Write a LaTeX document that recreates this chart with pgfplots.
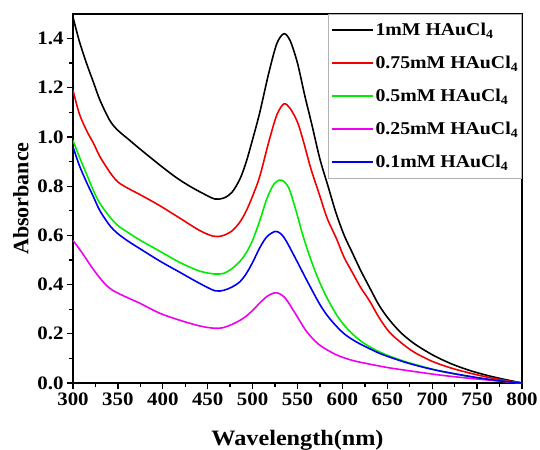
\documentclass[border=0pt]{standalone}
\usepackage{fontspec}
\setmainfont{Liberation Serif}[FakeStretch=1.1]
\newfontfamily\ylabfont{Liberation Serif}
\usepackage{pgfplots}
\pgfplotsset{compat=1.18}
\definecolor{cgreen}{RGB}{0,235,0}
\definecolor{cmag}{RGB}{240,0,240}
\definecolor{cblue}{RGB}{0,0,240}
\definecolor{cred}{RGB}{240,0,0}
\begin{document}
\begin{tikzpicture}
\useasboundingbox (-73bp,-67bp) rectangle (467bp,383bp);
\begin{axis}[
  at={(0,0)}, anchor=south west,
  scale only axis, width=449bp, height=369bp,
  xmin=300, xmax=800, ymin=0, ymax=1.5,
  xtick={300,350,...,800},
  ytick={0,0.2,...,1.4},
  minor x tick num=1, minor y tick num=1,
  tick pos=left, tick align=outside,
  major tick length=6bp, minor tick length=4bp,
  every tick/.style={line width=1.4pt, black},
  axis line style={line width=1.4pt},
  yticklabel style={/pgf/number format/.cd, fixed, fixed zerofill, precision=1},
  /pgf/number format/assume math mode=true,
  ticklabel style={font=\fontsize{19bp}{20bp}\selectfont\bfseries},
  xlabel={Wavelength(nm)}, ylabel={Absorbance},
  xlabel style={font=\fontsize{22bp}{24bp}\selectfont\bfseries, yshift=-18bp},
  ylabel style={font=\fontsize{22bp}{24bp}\ylabfont\bfseries, yshift=2bp},
  legend style={at={(1,1)}, anchor=north east, draw=gray!60, line width=0.8pt,
    font=\fontsize{18bp}{20bp}\selectfont\bfseries, row sep=15bp,
    inner xsep=2bp, inner ysep=7bp},
  legend cell align=left,
  legend image post style={line width=1.8pt},
  legend image code/.code={\draw[#1] (0cm,0cm) -- (1.45cm,0cm);},
  every axis plot/.append style={line width=1.6pt, smooth, no markers},
]
\addplot[black] coordinates {
(300,1.487)(307,1.39)(315,1.30)(323,1.22)(330,1.15)(341,1.067)(350,1.027)(362,0.99)(375,0.95)
(397,0.885)(415,0.835)(430,0.80)(445,0.77)(458,0.748)(468,0.752)(477,0.775)(486,0.83)(493,0.90)(500,0.99)
(508,1.10)(518,1.26)(527,1.38)(535,1.42)(542,1.39)(550,1.30)(558,1.17)(566,1.05)
(575,0.91)(584,0.80)(593,0.69)(602,0.60)(611,0.53)(620,0.46)(630,0.39)(641,0.315)(652,0.258)
(665,0.205)(680,0.16)(700,0.115)(720,0.08)(740,0.053)(760,0.032)(780,0.015)(800,0)};
\addlegendentry{1mM HAuCl$_{\mathbf{4}}$}
\addplot[cred] coordinates {
(300,1.19)(307,1.095)(315,1.027)(323,0.973)(330,0.92)(341,0.857)(350,0.817)(362,0.79)(375,0.765)
(397,0.72)(419,0.67)(441,0.62)(456,0.597)(466,0.598)(477,0.618)(486,0.655)(493,0.70)(500,0.76)
(508,0.84)(518,0.98)(527,1.09)(535,1.135)(542,1.115)(550,1.06)(556,0.99)(565,0.87)
(574,0.77)(583,0.67)(593,0.59)(602,0.51)(611,0.45)(620,0.39)(630,0.335)(641,0.265)(652,0.208)
(665,0.165)(680,0.125)(700,0.088)(720,0.062)(740,0.042)(760,0.025)(780,0.011)(800,0)};
\addlegendentry{0.75mM HAuCl$_{\mathbf{4}}$}
\addplot[cgreen] coordinates {
(300,0.986)(307,0.92)(315,0.85)(323,0.78)(330,0.73)(341,0.675)(350,0.64)(362,0.61)(375,0.58)
(397,0.535)(419,0.49)(441,0.455)(458,0.443)(468,0.446)(477,0.465)(486,0.495)(493,0.53)(500,0.58)
(508,0.66)(516,0.75)(524,0.81)(532,0.825)(540,0.795)(548,0.705)(556,0.60)(565,0.50)
(574,0.415)(583,0.345)(593,0.28)(602,0.235)(611,0.2)(620,0.172)(630,0.148)(641,0.127)(652,0.11)
(670,0.087)(689,0.067)(707,0.05)(726,0.036)(745,0.024)(763,0.014)(780,0.007)(800,0)};
\addlegendentry{0.5mM HAuCl$_{\mathbf{4}}$}
\addplot[cmag] coordinates {
(300,0.58)(310,0.53)(323,0.46)(335,0.405)(345,0.375)(360,0.348)(374,0.325)(397,0.283)
(419,0.255)(441,0.232)(456,0.223)(466,0.224)(477,0.238)(486,0.255)(493,0.272)(500,0.295)
(508,0.325)(516,0.352)(524,0.366)(530,0.363)(537,0.342)(548,0.28)(560,0.21)(574,0.156)
(593,0.115)(611,0.092)(630,0.077)(650,0.063)(670,0.052)(689,0.042)(707,0.033)(726,0.025)
(745,0.018)(763,0.012)(780,0.006)(800,0)};
\addlegendentry{0.25mM HAuCl$_{\mathbf{4}}$}
\addplot[cblue] coordinates {
(300,0.96)(307,0.885)(315,0.817)(323,0.755)(330,0.70)(341,0.64)(350,0.607)(362,0.575)(375,0.545)
(397,0.495)(419,0.45)(441,0.405)(458,0.375)(468,0.377)(477,0.39)(486,0.412)(493,0.445)(500,0.49)
(508,0.55)(516,0.595)(525,0.616)(531,0.608)(537,0.58)(548,0.505)(560,0.42)(574,0.325)
(583,0.275)(593,0.232)(602,0.2)(611,0.177)(620,0.158)(630,0.14)(641,0.121)(652,0.106)
(670,0.084)(689,0.065)(707,0.05)(726,0.037)(745,0.025)(763,0.015)(780,0.007)(800,0)};
\addlegendentry{0.1mM HAuCl$_{\mathbf{4}}$}
\end{axis}
\end{tikzpicture}
\end{document}
